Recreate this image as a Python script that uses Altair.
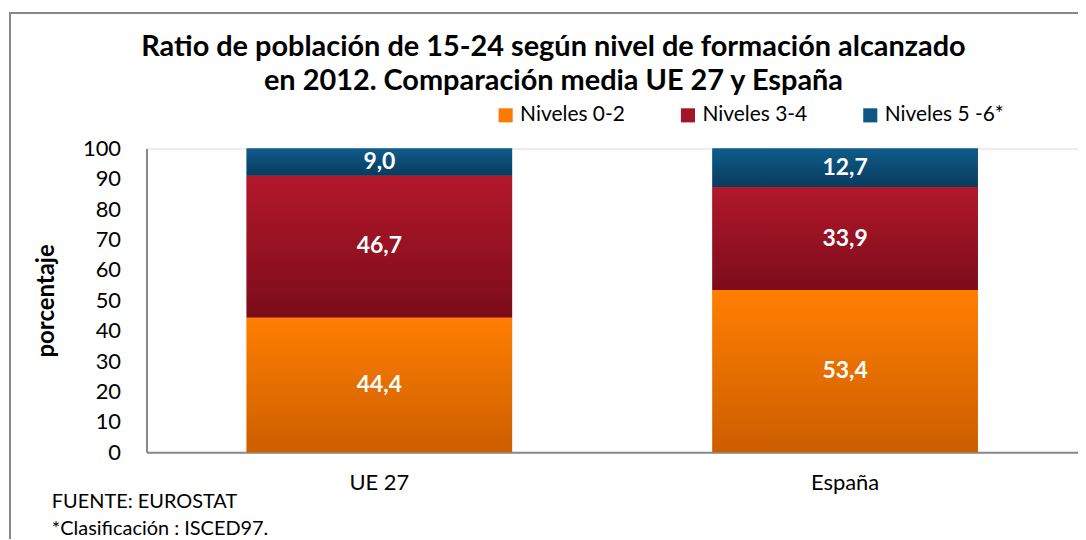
import altair as alt
import pandas as pd

categorias = ["UE 27", "España"]
series = ["Niveles 0-2", "Niveles 3-4", "Niveles 5 -6*"]
niveles_0_2 = [44.4, 53.4]
niveles_3_4 = [46.7, 33.9]
niveles_5_6 = [9.0, 12.7]
y_ticks = [0, 10, 20, 30, 40, 50, 60, 70, 80, 90, 100]

rows = []
for i, c in enumerate(categorias):
    for j, (s, vals) in enumerate(zip(series, [niveles_0_2, niveles_3_4, niveles_5_6])):
        rows.append({"cat": c, "serie": s, "orden": j, "valor": vals[i]})
df = pd.DataFrame(rows)

solid = ["#FB7A00", "#A3152A", "#0E5683"]
grads = [("#FF7F00", "#CC5E00"), ("#B2182B", "#7C0C1A"), ("#0F5C8C", "#083B5C")]

FONT = "Lato"
PLOT_W, PLOT_H = 935, 305

base = alt.Chart(df).transform_stack(
    stack="valor", groupby=["cat"], as_=["y0", "y1"], sort=[alt.SortField("orden")]
)

x_enc = alt.X(
    "cat:N",
    sort=categorias,
    title=None,
    scale=alt.Scale(paddingInner=0.43, paddingOuter=0.215),
    axis=alt.Axis(
        labelAngle=0, labelFontSize=22, labelFont=FONT, labelColor="black",
        ticks=False, domainColor="#888888", domainWidth=2, labelPadding=20,
    ),
)
y_axis = alt.Axis(
    values=y_ticks, labelOverlap=False, labelFontSize=22,
    labelFont=FONT, labelColor="black", ticks=False, grid=False,
    domainColor="#888888", domainWidth=2, labelPadding=26, titleFont=FONT,
    titleFontSize=24, titleFontWeight="bold", titleColor="black", titlePadding=24,
)
y_scale = alt.Scale(domain=[0, 100], nice=False, clamp=True)
y_enc = alt.Y("y0:Q", title="porcentaje", scale=y_scale, axis=y_axis)

solid_layer = base.mark_bar().encode(
    x=x_enc,
    y=y_enc,
    y2="y1:Q",
    color=alt.Color(
        "serie:N",
        scale=alt.Scale(domain=series, range=solid),
        sort=series,
        legend=alt.Legend(
            title=None, orient="none", direction="horizontal",
            legendX=350, legendY=-44, symbolType="square", symbolSize=200,
            symbolStrokeWidth=0, labelFontSize=21, labelFont=FONT,
            labelColor="black", columnPadding=52, labelOffset=4,
        ),
    ),
)

grad_layers = []
for s, (top, bot) in zip(series, grads):
    g = alt.LinearGradient(
        gradient="linear", x1=0, y1=0, x2=0, y2=1,
        stops=[alt.GradientStop(color=top, offset=0), alt.GradientStop(color=bot, offset=1)],
    )
    grad_layers.append(
        base.transform_filter(alt.datum.serie == s).mark_bar(color=g).encode(
            x=x_enc, y=y_enc, y2="y1:Q"
        )
    )

labels = base.transform_calculate(
    mid="(datum.y0 + datum.y1) / 2",
    lab="replace(format(datum.valor, '.1f'), '.', ',')",
).mark_text(color="white", fontWeight="bold", fontSize=23, font=FONT).encode(
    x=x_enc, y=alt.Y("mid:Q", title="porcentaje", scale=y_scale, axis=y_axis), text="lab:N"
)

note_df = pd.DataFrame({"t": ["FUENTE: EUROSTAT"]})
note2_df = pd.DataFrame({"t": ["*Clasificación : ISCED97."]})
note1 = alt.Chart(note_df).mark_text(
    align="left", baseline="middle", fontSize=20, font=FONT, color="black"
).encode(x=alt.value(-95), y=alt.value(355), text="t:N")
note2 = alt.Chart(note2_df).mark_text(
    align="left", baseline="middle", fontSize=20, font=FONT, color="black"
).encode(x=alt.value(-95), y=alt.value(382), text="t:N")

border = alt.Chart(pd.DataFrame({"a": [0]})).mark_rect(
    fillOpacity=0, stroke="#888888", strokeWidth=2
).encode(x=alt.value(-137), x2=alt.value(1100), y=alt.value(-136), y2=alt.value(600))

chart = alt.layer(border, solid_layer, *grad_layers, labels, note1, note2).properties(
    width=PLOT_W,
    height=PLOT_H,
    autosize=alt.AutoSizeParams(type="none"),
    padding={"left": 139, "top": 140, "right": 0, "bottom": 86},
    title=alt.TitleParams(
        text=["Ratio de población de 15-24 según nivel de formación alcanzado",
              "en 2012. Comparación media UE 27 y España"],
        fontSize=29, font=FONT, fontWeight="bold", color="black",
        anchor="middle", dx=-59, offset=-84, lineHeight=34,
    ),
).configure_view(stroke=None).configure(background="white")

chart.save("out.html", embed_options={"renderer": "svg", "actions": False})
